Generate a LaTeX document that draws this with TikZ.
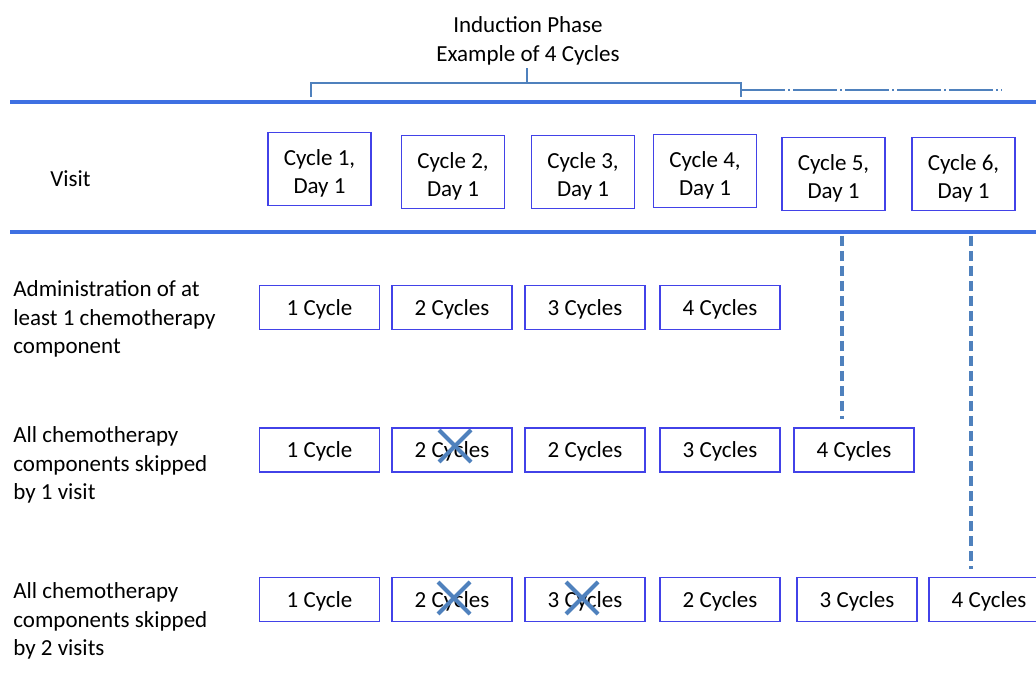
\documentclass[tikz,border=0pt]{standalone}
\usepackage{fontspec}
\setmainfont{Carlito}
\definecolor{boxline}{RGB}{66,66,232}
\definecolor{ruleblue}{RGB}{62,112,226}
\definecolor{markblue}{RGB}{79,129,189}
\tikzset{
  cell/.style={draw=boxline, line width=0.6pt, minimum width=60pt, minimum height=22pt, inner sep=0pt,
    align=center, text height=8.6pt, text depth=0.6pt},
  visitbox/.style={cell, minimum width=51.5pt, minimum height=36.5pt, text height=27pt, text depth=2pt},
  rowlabel/.style={anchor=west, align=left, inner sep=0pt},
  thickrule/.style={ruleblue, line width=2pt},
  brace/.style={markblue, line width=0.6pt},
  skipline/.style={markblue, line width=2pt, dash pattern=on 5pt off 2.5pt},
  xmark/.style={markblue, line width=2pt}
}

\begin{document}
\begin{tikzpicture}[x=0.5pt, y=-0.5pt, font=\fontsize{11.5}{14.3}\selectfont]
  \useasboundingbox (0,0) rectangle (1036,688);

  % heading and brace
  \node[align=center] (phase) at (528,41) {Induction Phase\\Example of 4 Cycles};
  \coordinate (bl) at (311,97);
  \coordinate (br) at (741,97);
  \coordinate (bend) at (1002,90);
  \draw[brace] (bl) -- (311,83) -- (741,83) -- (br)
    (527,83) -- (527,68);
  \draw[brace, dash pattern=on 22pt off 1.5pt on 1pt off 1.5pt] (741,90) -- (bend);

  % rules
  \draw[thickrule] (10,102) -- (1036,102);
  \draw[thickrule] (10,232) -- (1036,232);

  % visits
  \node[rowlabel] (visit) at (50,179) {Visit};
  \node[visitbox] (c1) at (319.5,169) {Cycle 1,\\Day 1};
  \node[visitbox] (c2) at (453,172) {Cycle 2,\\Day 1};
  \node[visitbox] (c3) at (583,172) {Cycle 3,\\Day 1};
  \node[visitbox] (c4) at (705,171) {Cycle 4,\\Day 1};
  \node[visitbox] (c5) at (833.5,174) {Cycle 5,\\Day 1};
  \node[visitbox] (c6) at (963.5,174) {Cycle 6,\\Day 1};

  % row 1
  \node[rowlabel] (lab1) at (13,319) {Administration of at\\least 1 chemotherapy\\component};
  \node[cell] (r1a) at (319.5,307.5) {1 Cycle};
  \node[cell] (r1b) at (452,307.5) {2 Cycles};
  \node[cell] (r1c) at (585,307.5) {3 Cycles};
  \node[cell] (r1d) at (720,307.5) {4 Cycles};

  % row 2
  \node[rowlabel] (lab2) at (13,465) {All chemotherapy\\components skipped\\by 1 visit};
  \node[cell] (r2a) at (319.5,450) {1 Cycle};
  \node[cell] (r2b) at (452,450) {2 Cycles};
  \node[cell] (r2c) at (585,450) {2 Cycles};
  \node[cell] (r2d) at (720,450) {3 Cycles};
  \node[cell] (r2e) at (854,450) {4 Cycles};

  % row 3
  \node[rowlabel] (lab3) at (13,621) {All chemotherapy\\components skipped\\by 2 visits};
  \node[cell] (r3a) at (319.5,599.5) {1 Cycle};
  \node[cell] (r3b) at (452,599.5) {2 Cycles};
  \node[cell] (r3c) at (585,599.5) {3 Cycles};
  \node[cell] (r3d) at (720,599.5) {2 Cycles};
  \node[cell] (r3e) at (857,599.5) {3 Cycles};
  \node[cell] (r3f) at (989,599.5) {4 Cycles};

  % skipped visits
  \draw[xmark] ([shift={(-16,-16)}]455,446) -- ([shift={(16,16)}]455,446)
    ([shift={(16,-16)}]455,446) -- ([shift={(-16,16)}]455,446);
  \draw[xmark] ([shift={(-16,-16)}]454,598) -- ([shift={(16,16)}]454,598)
    ([shift={(16,-16)}]454,598) -- ([shift={(-16,16)}]454,598);
  \draw[xmark] ([shift={(-16,-16)}]582,598) -- ([shift={(16,16)}]582,598)
    ([shift={(16,-16)}]582,598) -- ([shift={(-16,16)}]582,598);

  % delayed cycle 4
  \coordinate (v5) at (842,236);
  \coordinate (v6) at (971,236);
  \draw[skipline, shorten >=4pt] (v5) -- (v5 |- r2e.north);
  \draw[skipline, shorten >=4pt] (v6) -- (v6 |- r3f.north);
\end{tikzpicture}
\end{document}
